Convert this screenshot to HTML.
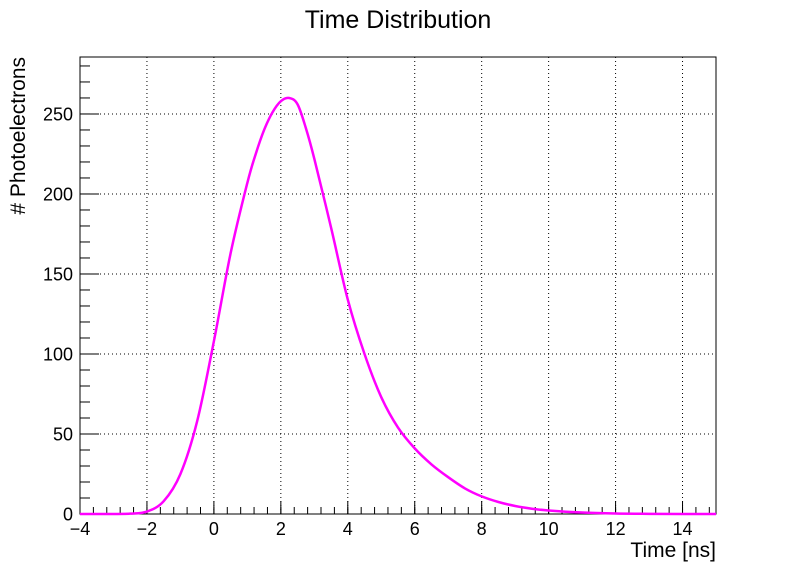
<!DOCTYPE html>
<html><head><meta charset="utf-8"><style>
html,body{margin:0;padding:0;background:#fff;}
svg{display:block;font-family:"Liberation Sans",sans-serif;}
</style></head><body>
<svg id="chart" width="796" height="572" viewBox="0 0 796 572">
<rect x="0" y="0" width="796" height="572" fill="#fff"/>
<text x="398" y="28" text-anchor="middle" font-size="25">Time Distribution</text>
<g id="grid"></g>
<g id="ticks"></g>
<g id="labels"></g>
<rect x="80" y="57" width="636" height="457" fill="none" stroke="#000" stroke-width="1"/>
<path id="curve" fill="none" stroke="#ff00ff" stroke-width="2.5"/>
<text x="716" y="557" text-anchor="end" font-size="21">Time [ns]</text>
<text transform="translate(25,57) rotate(-90)" text-anchor="end" font-size="21"># Photoelectrons</text>
</svg>
<script>
const times = [-4,-3.5,-3,-2.5,-2,-1.5,-1,-0.5,0,0.5,1,1.25,1.5,1.75,2,2.25,2.5,2.75,3,3.5,4,4.5,5,5.5,6,6.5,7,7.5,8,8.5,9,9.5,10,11,12,13,14,15];
const counts = [0,0,0,0.2,1.5,8,25,58,108,163,207,225,240,251,258,260,256,241,222,179,134,100,73,54,41,31,23,16,11,7.5,5,3.3,2.2,0.9,0.3,0.1,0,0];
const xTicks = [-4,-2,0,2,4,6,8,10,12,14];
const yTicks = [0,50,100,150,200,250];
const X0=80,X1=716,Y0=514,Y1=57,xmin=-4,xmax=15,ymin=0,ymax=285.6;
const sx=v=>X0+(v-xmin)/(xmax-xmin)*(X1-X0);
const sy=v=>Y0-(v-ymin)/(ymax-ymin)*(Y0-Y1);
const NS='http://www.w3.org/2000/svg';
const grid=document.getElementById('grid'),ticks=document.getElementById('ticks'),labels=document.getElementById('labels');
function line(p,x1,y1,x2,y2,extra){const l=document.createElementNS(NS,'line');l.setAttribute('x1',x1);l.setAttribute('y1',y1);l.setAttribute('x2',x2);l.setAttribute('y2',y2);l.setAttribute('stroke','#000');l.setAttribute('stroke-width','1');if(extra)l.setAttribute('stroke-dasharray',extra);p.appendChild(l);return l;}
function txt(x,y,s,anchor){const t=document.createElementNS(NS,'text');t.setAttribute('x',x);t.setAttribute('y',y);t.setAttribute('font-size','18');t.setAttribute('text-anchor',anchor);t.textContent=s;labels.appendChild(t);return t;}
xTicks.forEach(v=>{const x=sx(v);
 if(v>xmin){const g=line(grid,x,Y0,x,Y1,'1,3');
 
 }
 const t=line(ticks,x,Y0,x,Y0-13);
 
 
 const l=txt(x,535,String(v).replace('-','\u2212'),'middle');
 
 
});
for(let v=xmin;v<=xmax+1e-9;v+=0.4){const x=sx(v);
 const t=line(ticks,x,Y0,x,Y0-7);
 
 }
yTicks.forEach(v=>{const y=sy(v);
 if(v>0){const g=line(grid,X0,y,X1,y,'1,3');
 
 }
 const t=line(ticks,X0,y,X0+19,y);
 
 
 const l=txt(X0-7,y+6.5,String(v),'end');
 
 
});
for(let v=0;v<=ymax;v+=10){const y=sy(v);
 const t=line(ticks,X0,y,X0+10,y);
 
 }
const pts=times.map((t,i)=>[sx(t),sy(counts[i])]);
let d='M'+pts[0][0]+','+pts[0][1];
for(let i=0;i<pts.length-1;i++){const p0=pts[Math.max(0,i-1)],p1=pts[i],p2=pts[i+1],p3=pts[Math.min(pts.length-1,i+2)];
 const c1=[p1[0]+(p2[0]-p0[0])/6,p1[1]+(p2[1]-p0[1])/6],c2=[p2[0]-(p3[0]-p1[0])/6,p2[1]-(p3[1]-p1[1])/6];
 c1[1]=Math.min(c1[1],Y0);c2[1]=Math.min(c2[1],Y0);
 d+=' C'+c1[0]+','+c1[1]+' '+c2[0]+','+c2[1]+' '+p2[0]+','+p2[1];}
document.getElementById('curve').setAttribute('d',d);
</script>
</body></html>
